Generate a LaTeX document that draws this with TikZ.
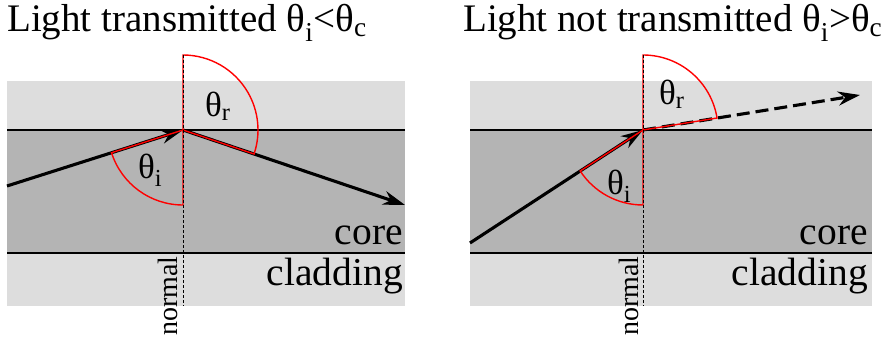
\documentclass[tikz,border=0pt]{standalone}
\usepackage{fontspec}
\setmainfont{Liberation Serif}
\usetikzlibrary{arrows.meta}
\definecolor{clad}{RGB}{221,221,221}
\definecolor{corec}{RGB}{180,180,180}
\tikzset{
  cladbox/.style={fill=clad,draw=none},
  corebox/.style={fill=corec,draw=none},
  iface/.style={line width=1.4pt},
  ray/.style={line width=3.1pt,-{Stealth[length=22pt,width=14pt,inset=7pt]}},
  normalline/.style={line width=0.7pt,dash pattern=on 3pt off 2pt},
  sector/.style={red,line width=1.4pt,line join=miter},
  ttl/.style={inner sep=0pt,anchor=base west,font=\fontsize{39}{44}\selectfont},
  lbl/.style={inner sep=0pt,anchor=base east,font=\fontsize{39.5}{44}\selectfont},
  ang/.style={inner sep=0pt,anchor=base west,font=\fontsize{35}{40}\selectfont},
  nrm/.style={inner sep=0pt,anchor=base west,rotate=90,font=\fontsize{28}{32}\selectfont}
}
\begin{document}
\begin{tikzpicture}[x=1pt,y=1pt]
\useasboundingbox (0,0) rectangle (895,337);
% ---------- left panel ----------
\fill[cladbox] (7,207) rectangle (405,256);
\fill[corebox] (7,84) rectangle (405,207);
\fill[cladbox] (7,31) rectangle (405,84);
\coordinate (L1a) at (7,207); \coordinate (L1b) at (405,207);
\coordinate (L2a) at (7,84); \coordinate (L2b) at (405,84);
\draw[iface] (L1a) -- (L1b);
\draw[iface] (L2a) -- (L2b);
\coordinate (O) at (183,207);
\coordinate (Lin) at (7,151);
\coordinate (Lout) at (405,132);
\draw[ray] (Lin) -- (O);
\draw[ray] (O) -- (Lout);
\draw[sector] (O) -- ++(90:75) arc[start angle=90,end angle=-18.67,radius=75] -- cycle;
\draw[sector] (O) -- ++(197.65:75) arc[start angle=197.65,end angle=270,radius=75] -- cycle;
\coordinate (Ntop) at (183,282); \coordinate (Nbot) at (183,31);
\draw[normalline] (Ntop) -- (Nbot);
\node[ttl] (t1) at (7,305) {Light transmitted θ\textsubscript{i}<θ\textsubscript{c}};
\node[ang] (thr1) at (205,220) {θ\textsubscript{r}};
\node[ang] (thi1) at (138,158) {θ\textsubscript{i}};
\node[lbl] (core1) at (403,92) {core};
\node[lbl] (clad1) at (403,51) {cladding};
\node[nrm] (norm1) at (177,1) {normal};
% ---------- right panel ----------
\fill[cladbox] (470,207) rectangle (872,256);
\fill[corebox] (470,84) rectangle (872,207);
\fill[cladbox] (470,31) rectangle (872,84);
\coordinate (R1a) at (470,207); \coordinate (R1b) at (872,207);
\coordinate (R2a) at (470,84); \coordinate (R2b) at (872,84);
\draw[iface] (R1a) -- (R1b);
\draw[iface] (R2a) -- (R2b);
\coordinate (P) at (643,207);
\coordinate (Rin) at (470,94);
\coordinate (Rout) at (860,242);
\draw[ray] (Rin) -- (P);
\draw[ray,dash pattern=on 13pt off 6pt] (P) -- (Rout);
\draw[sector] (P) -- ++(90:75) arc[start angle=90,end angle=9.2,radius=75] -- cycle;
\draw[sector] (P) -- ++(213.15:75) arc[start angle=213.15,end angle=270,radius=75] -- cycle;
\coordinate (Mtop) at (643,282); \coordinate (Mbot) at (643,31);
\draw[normalline] (Mtop) -- (Mbot);
\node[ttl] (t2) at (463,305) {Light not transmitted θ\textsubscript{i}>θ\textsubscript{c}};
\node[ang] (thr2) at (659,232) {θ\textsubscript{r}};
\node[ang] (thi2) at (607,142) {θ\textsubscript{i}};
\node[lbl] (core2) at (868,92) {core};
\node[lbl] (clad2) at (868,51) {cladding};
\node[nrm] (norm2) at (638,1) {normal};
\end{tikzpicture}
\end{document}
